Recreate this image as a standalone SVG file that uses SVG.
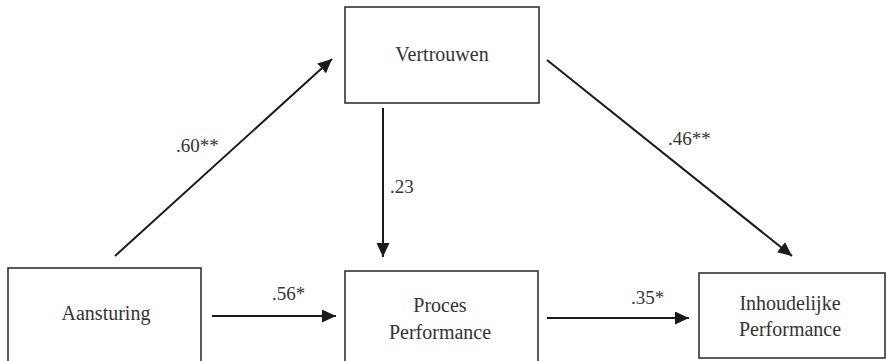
<svg xmlns="http://www.w3.org/2000/svg" width="886" height="361" viewBox="0 0 886 361">
  <style>
    .box { fill: #ffffff; stroke: #333333; stroke-width: 1.6; }
    .label { font-size: 20px; fill: #333333; text-anchor: middle; }
    .coef { font-size: 19px; fill: #333333; }
    .edge { stroke: #1a1a1a; stroke-width: 2; fill: none; marker-end: url(#head); }
  </style>
  <defs>
    <marker id="head" markerUnits="userSpaceOnUse" markerWidth="16" markerHeight="14" refX="14" refY="6.5" orient="auto">
      <path d="M0,0 L14,6.5 L0,13 Z" fill="#1a1a1a"/>
    </marker>
  </defs>
  <rect width="886" height="361" fill="#ffffff"/>

  <g font-family="Liberation Serif, serif">
    <g id="vertrouwen">
      <rect class="box" x="345" y="7" width="194" height="96"/>
      <text class="label" x="442" y="61">Vertrouwen</text>
    </g>

    <g id="aansturing">
      <rect class="box" x="8" y="268" width="193" height="110"/>
      <text class="label" x="106" y="320">Aansturing</text>
    </g>

    <g id="proces-performance">
      <rect class="box" x="345" y="271" width="193" height="110"/>
      <text class="label" x="440" y="312">Proces</text>
      <text class="label" x="440" y="339">Performance</text>
    </g>

    <g id="inhoudelijke-performance">
      <rect class="box" x="699" y="273" width="186" height="85"/>
      <text class="label" x="790" y="310">Inhoudelijke</text>
      <text class="label" x="790" y="336">Performance</text>
    </g>

    <g id="connectors">
      <line class="edge" x1="115" y1="256" x2="332" y2="59"/>
      <line class="edge" x1="383" y1="108" x2="383" y2="257"/>
      <line class="edge" x1="547" y1="60" x2="792" y2="256"/>
      <line class="edge" x1="212" y1="316" x2="336" y2="316"/>
      <line class="edge" x1="547" y1="318" x2="689" y2="318"/>
      <text class="coef" x="176" y="152">.60**</text>
      <text class="coef" x="390" y="193">.23</text>
      <text class="coef" x="668" y="145">.46**</text>
      <text class="coef" x="272" y="300">.56*</text>
      <text class="coef" x="631" y="304">.35*</text>
    </g>
  </g>
</svg>
